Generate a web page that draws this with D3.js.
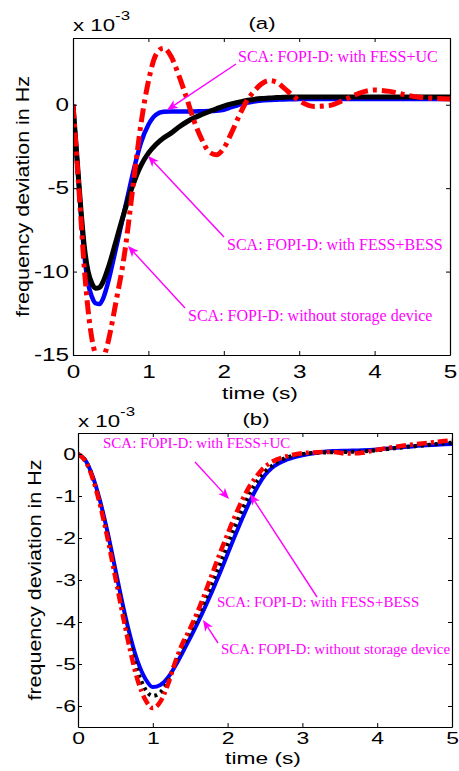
<!DOCTYPE html>
<html><head><meta charset="utf-8">
<script src="https://cdn.jsdelivr.net/npm/d3@7"></script>
<style>body{margin:0;background:#fff}</style>
</head><body>
<script>
// ---------- data (values in units of 1e-3 Hz) ----------
const timeA = [0,0.05,0.1,0.15,0.2,0.25,0.3,0.35,0.4,0.45,0.5,0.55,0.6,0.65,0.7,0.75,0.8,0.85,0.9,
  1.0,1.1,1.2,1.3,1.4,1.5,1.6,1.7,1.8,1.9,2.0,2.1,2.2,2.3,2.4,2.5,2.6,2.7,2.8,2.9,3.0,
  3.2,3.4,3.6,3.8,4.0,4.2,4.4,4.6,4.8,5.0];
const blueA = [0,-3.1,-6.2,-9.0,-10.7,-11.5,-11.9,-11.95,-11.6,-10.9,-10.0,-9.0,-8.0,-7.0,-6.0,-5.0,-4.0,-3.1,-2.3,
  -1.2,-0.6,-0.42,-0.4,-0.4,-0.4,-0.4,-0.39,-0.38,-0.36,-0.3,-0.15,0.0,0.12,0.2,0.25,0.28,0.3,0.32,0.33,0.34,
  0.35,0.35,0.35,0.35,0.35,0.35,0.35,0.35,0.35,0.35];
const blackA = [0,-3.0,-6.0,-8.5,-10.0,-10.7,-11.0,-10.95,-10.6,-10.0,-9.3,-8.5,-7.7,-6.9,-6.15,-5.4,-4.75,-4.15,-3.65,
  -2.9,-2.38,-2.0,-1.7,-1.35,-1.05,-0.8,-0.6,-0.42,-0.25,-0.08,0.05,0.15,0.25,0.32,0.37,0.4,0.43,0.45,0.46,0.47,
  0.47,0.47,0.47,0.47,0.47,0.47,0.47,0.47,0.47,0.47];
const redA = [0,-3.2,-6.5,-9.8,-12.3,-14.0,-15.0,-15.4,-15.2,-14.5,-13.5,-12.3,-11.1,-9.9,-8.4,-6.6,-4.7,-2.9,-1.2,
  1.4,3.0,3.4,2.9,1.8,0.5,-0.9,-2.0,-2.8,-3.0,-2.6,-1.7,-0.7,0.2,0.8,1.25,1.45,1.35,1.0,0.6,0.25,
  -0.1,-0.05,0.3,0.7,0.88,0.8,0.6,0.45,0.38,0.35];

const timeB = [0,0.1,0.2,0.3,0.4,0.5,0.6,0.7,0.8,0.9,1.0,1.1,1.2,1.3,1.4,1.5,1.6,1.7,1.8,1.9,2.0,2.1,2.2,2.3,2.4,2.5,2.6,
  2.8,3.0,3.2,3.4,3.6,3.8,4.0,4.2,4.4,4.6,4.8,5.0];
const blueB = [0,-0.15,-0.55,-1.15,-1.9,-2.75,-3.6,-4.35,-4.95,-5.35,-5.55,-5.5,-5.33,-5.05,-4.72,-4.38,-4.02,-3.64,-3.24,-2.82,-2.38,-1.94,-1.52,-1.12,-0.78,-0.5,-0.32,
  -0.13,-0.03,0.03,0.07,0.08,0.09,0.11,0.14,0.17,0.2,0.22,0.24];
const blackB = [0,-0.16,-0.57,-1.2,-1.97,-2.85,-3.72,-4.52,-5.18,-5.6,-5.76,-5.68,-5.42,-4.98,-4.6,-4.25,-3.88,-3.48,-3.06,-2.62,-2.16,-1.72,-1.3,-0.93,-0.63,-0.42,-0.27,
  -0.08,0.0,0.03,0.04,0.05,0.06,0.09,0.13,0.17,0.2,0.24,0.27];
const redB = [0,-0.17,-0.6,-1.25,-2.05,-2.95,-3.85,-4.7,-5.4,-5.85,-6.05,-5.9,-5.5,-4.95,-4.5,-4.15,-3.75,-3.3,-2.82,-2.35,-1.9,-1.47,-1.08,-0.75,-0.5,-0.3,-0.18,
  -0.05,0.02,0.04,0.05,0.01,0.03,0.1,0.16,0.21,0.25,0.29,0.33];

const xTicks = [0,1,2,3,4,5];
const yTicksA = [-15,-10,-5,0];
const yTicksB = [-6,-5,-4,-3,-2,-1,0];
const labelUC = "SCA: FOPI-D: with FESS+UC";
const labelBESS = "SCA: FOPI-D: with FESS+BESS";
const labelNone = "SCA: FOPI-D: without storage device";

// ---------- drawing ----------
const W = 459, H = 771;
const SANS = "'Liberation Sans', Arial, Helvetica, sans-serif";
const SERIF = "'Liberation Serif', 'Times New Roman', serif";
const MAG = "#ff00ff";
const fmt = d => String(d);   // plain hyphen-minus, as in the figure

const svg = d3.select("body").append("svg")
  .attr("width", W).attr("height", H).style("background", "#fff");

function sText(g, x, y, str, size, sx, anchor, rot) {
  return g.append("text")
    .attr("transform", `translate(${x},${y})${rot ? ` rotate(${rot})` : ""} scale(${sx},1)`)
    .attr("text-anchor", anchor || "start")
    .style("font-family", SANS).style("font-size", size + "px").attr("fill", "#000")
    .text(str);
}

function arrow(g, x1, y1, x2, y2) {
  const dx = x2 - x1, dy = y2 - y1, L = Math.hypot(dx, dy);
  const ux = dx / L, uy = dy / L, nx = -uy, ny = ux;
  const hl = 11, hw = 4.5, notch = 3;
  g.append("line").attr("x1", x1).attr("y1", y1)
    .attr("x2", x2 - (hl - notch) * ux).attr("y2", y2 - (hl - notch) * uy)
    .attr("stroke", MAG).attr("stroke-width", 1.4);
  const pts = [[x2, y2],
    [x2 - hl * ux + hw * nx, y2 - hl * uy + hw * ny],
    [x2 - (hl - notch) * ux, y2 - (hl - notch) * uy],
    [x2 - hl * ux - hw * nx, y2 - hl * uy - hw * ny]];
  g.append("polygon").attr("points", pts.map(p => p.join(",")).join(" ")).attr("fill", MAG);
}

function stretchTicks(axisG, sx, size) {
  axisG.selectAll(".tick text").each(function () {
    const t = d3.select(this);
    const x = +t.attr("x") || 0;
    t.attr("x", x / sx).attr("transform", `scale(${sx},1)`)
      .style("font-family", SANS).style("font-size", size + "px").attr("fill", "#000");
  });
  axisG.selectAll(".domain").attr("stroke", "#000");
  axisG.selectAll(".tick line").attr("stroke", "#000");
}

function panel(cfg) {
  const g = svg.append("g");
  const x = d3.scaleLinear().domain([0, 5]).range([cfg.l, cfg.r]);
  const y = d3.scaleLinear().domain(cfg.yDom).range([cfg.b, cfg.t]);
  const clipId = "clip" + cfg.id;
  svg.append("clipPath").attr("id", clipId).append("rect")
    .attr("x", cfg.l).attr("y", cfg.t).attr("width", cfg.r - cfg.l).attr("height", cfg.b - cfg.t);

  const line = d3.line().x(d => x(d[0])).y(d => y(d[1])).curve(d3.curveMonotoneX);
  const lg = g.append("g").attr("clip-path", `url(#${clipId})`);
  cfg.series.forEach(s => {
    lg.append("path").datum(s.time.map((t, i) => [t, s.vals[i]]))
      .attr("d", line).attr("fill", "none")
      .attr("stroke", s.color).attr("stroke-width", s.width)
      .attr("stroke-dasharray", s.dash || null)
      .attr("stroke-linejoin", "round");
  });

  const ax = g.append("g").attr("transform", `translate(0,${cfg.b})`)
    .call(d3.axisBottom(x).tickValues(xTicks).tickFormat(fmt)
      .tickSizeInner(-4).tickSizeOuter(0).tickPadding(cfg.xPad));
  stretchTicks(ax, cfg.sx, cfg.tickSize);
  const axT = g.append("g").attr("transform", `translate(0,${cfg.t})`)
    .call(d3.axisTop(x).tickValues(xTicks).tickFormat(() => "").tickSizeInner(-4).tickSizeOuter(0));
  stretchTicks(axT, 1, 1);
  const ay = g.append("g").attr("transform", `translate(${cfg.l},0)`)
    .call(d3.axisLeft(y).tickValues(cfg.yTicks).tickFormat(fmt)
      .tickSizeInner(-4).tickSizeOuter(0).tickPadding(cfg.yPad));
  stretchTicks(ay, cfg.sx, cfg.tickSize);
  const ayR = g.append("g").attr("transform", `translate(${cfg.r},0)`)
    .call(d3.axisRight(y).tickValues(cfg.yTicks).tickFormat(() => "").tickSizeInner(-4).tickSizeOuter(0));
  stretchTicks(ayR, 1, 1);
  g.selectAll(".domain").attr("stroke-width", 1.2);

  const ex = sText(g, cfg.l, cfg.expY, "x 10", 16.5, 1.35, "start");
  ex.append("tspan").attr("dy", -11).style("font-size", "12.5px").text("-3");

  sText(g, cfg.titleX, cfg.titleY, cfg.title, 17, 1.3, "middle");
  sText(g, cfg.xlabX, cfg.xlabY, "time (s)", 17, 1.34, "middle");
  sText(g, cfg.ylabX, (cfg.t + cfg.b) / 2, "frequency deviation in Hz", 19, 1.13, "middle", -90);

  const an = g.append("g");
  cfg.notes.forEach(n => {
    arrow(an, n.from[0], n.from[1], n.to[0], n.to[1]);
    an.append("text").attr("x", n.text[0]).attr("y", n.text[1])
      .style("font-family", SERIF).style("font-size", cfg.noteSize + "px")
      .attr("fill", MAG).text(n.label);
  });
}

panel({
  id: "a", l: 73, r: 450, t: 38, b: 355, yDom: [-15, 4], yTicks: yTicksA,
  sx: 1.35, tickSize: 18, xPad: 10, yPad: 4,
  expY: 31, title: "(a)", titleX: 262, titleY: 29, xlabX: 260, xlabY: 399, ylabX: 29,
  series: [
    { time: timeA, vals: blueA, color: "#0000ff", width: 4.5 },
    { time: timeA, vals: blackA, color: "#000000", width: 5 },
    { time: timeA, vals: redA, color: "#ff0000", width: 5, dash: "14,5,4,5" }
  ],
  noteSize: 16,
  notes: [
    { label: labelUC, text: [238, 62], from: [236, 64], to: [167, 110] },
    { label: labelBESS, text: [227, 250], from: [224, 237], to: [148, 156] },
    { label: labelNone, text: [188, 321], from: [185, 308], to: [128, 246] }
  ]
});

panel({
  id: "b", l: 78, r: 452, t: 433, b: 727, yDom: [-6.5, 0.5], yTicks: yTicksB,
  sx: 1.35, tickSize: 17, xPad: 5, yPad: 2,
  expY: 427, title: "(b)", titleX: 256, titleY: 425, xlabX: 263, xlabY: 764, ylabX: 41,
  series: [
    { time: timeB, vals: blueB, color: "#0000ff", width: 4 },
    { time: timeB, vals: blackB, color: "#000000", width: 4, dash: "3,4" },
    { time: timeB, vals: redB, color: "#ff0000", width: 4.5, dash: "10,4,3,4" }
  ],
  noteSize: 15,
  notes: [
    { label: labelUC, text: [103, 448], from: [195, 462], to: [229, 499] },
    { label: labelBESS, text: [217, 607], from: [317, 597], to: [250, 494] },
    { label: labelNone, text: [221, 654], from: [218, 643], to: [203, 620] }
  ]
});
</script>
</body></html>
